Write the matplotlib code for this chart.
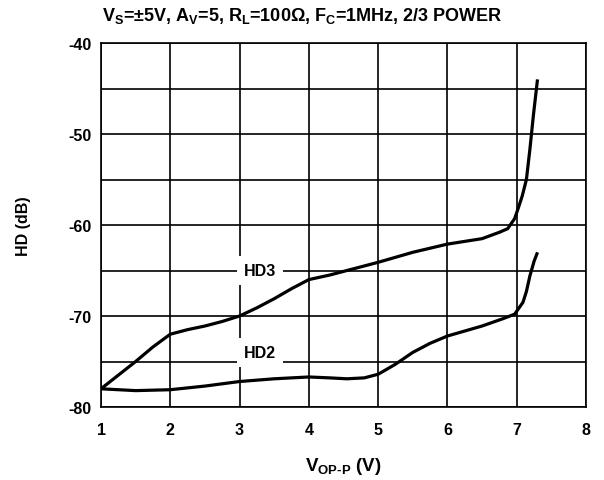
import matplotlib
matplotlib.use("Agg")
import matplotlib.pyplot as plt
import numpy as np

plt.rcParams['font.family'] = ['Liberation Sans', 'DejaVu Sans']
plt.rcParams['mathtext.fontset'] = 'custom'
plt.rcParams['mathtext.rm'] = 'Liberation Sans:bold'
plt.rcParams['mathtext.bf'] = 'Liberation Sans:bold'
plt.rcParams['mathtext.it'] = 'Liberation Sans:bold'
plt.rcParams['axes.unicode_minus'] = False

hd3_x = [1.0, 1.25, 1.5, 1.75, 2.0, 2.25, 2.5, 2.75, 3.0, 3.25, 3.5, 3.75, 4.0, 4.3, 4.6, 5.0, 5.5, 6.0, 6.5, 6.75, 6.87, 6.97, 7.02, 7.08, 7.14, 7.19, 7.24, 7.30]
hd3_y = [-78.0, -76.5, -75.0, -73.4, -72.0, -71.5, -71.1, -70.6, -70.0, -69.1, -68.1, -67.0, -66.0, -65.5, -64.9, -64.1, -63.0, -62.1, -61.5, -60.8, -60.4, -59.3, -58.2, -56.8, -55.0, -51.7, -48.0, -44.0]

hd2_x = [1.0, 1.5, 2.0, 2.5, 3.0, 3.5, 4.0, 4.3, 4.55, 4.8, 5.0, 5.25, 5.5, 5.75, 6.0, 6.5, 6.8, 6.97, 7.09, 7.14, 7.19, 7.25, 7.30]
hd2_y = [-78.0, -78.2, -78.1, -77.7, -77.2, -76.9, -76.7, -76.8, -76.9, -76.8, -76.4, -75.3, -74.0, -73.0, -72.2, -71.1, -70.3, -69.8, -68.5, -67.3, -65.6, -64.0, -63.0]

x_ticks = [1, 2, 3, 4, 5, 6, 7, 8]
y_ticks = [-80, -70, -60, -50, -40]
y_minor = [-75, -65, -55, -45]

FS = 11.5

fig = plt.figure(figsize=(6.04, 4.81), dpi=100)
ax = fig.add_axes([101/604, 1-408/481, (586-101)/604, (408-44)/481])

ax.plot(hd3_x, hd3_y, color='black', lw=2.3, zorder=3, solid_capstyle='butt')
ax.plot(hd2_x, hd2_y, color='black', lw=2.3, zorder=3, solid_capstyle='butt')

ax.set_xlim(1, 8)
ax.set_ylim(-80, -40)
ax.set_xticks(x_ticks)
ax.set_yticks(y_ticks)
ax.set_yticks(y_minor, minor=True)
ax.grid(True, which='both', color='black', lw=1.2, zorder=1)
ax.tick_params(which='both', length=0)
ax.tick_params(axis='x', pad=11, labelsize=FS)
ax.tick_params(axis='y', pad=7, labelsize=FS)
for lbl in ax.get_xticklabels() + ax.get_yticklabels():
    lbl.set_fontweight('bold')
for s in ax.spines.values():
    s.set_linewidth(1.2)

ax.text(3.3, -65, 'HD3', ha='center', va='center', fontsize=FS, fontweight='bold',
        bbox=dict(facecolor='white', edgecolor='none', pad=5), zorder=4)
ax.text(3.3, -74, 'HD2', ha='center', va='center', fontsize=FS, fontweight='bold',
        bbox=dict(facecolor='white', edgecolor='none', pad=5), zorder=4)

ax.set_xlabel(r'$\mathbf{V_{OP\text{-}P}}$ (V)', fontsize=13.5, fontweight='bold', labelpad=13)
ax.set_ylabel('HD (dB)', fontsize=FS, fontweight='bold', labelpad=27)

fig.text(0.5, 1-16/481, r'$\mathbf{V_S}$=±5V, $\mathbf{A_V}$=5, $\mathbf{R_L}$=100$\Omega$, $\mathbf{F_C}$=1MHz, 2/3 POWER',
         ha='center', va='center', fontsize=13, fontweight='bold')

fig.savefig('out.png', dpi=100)
